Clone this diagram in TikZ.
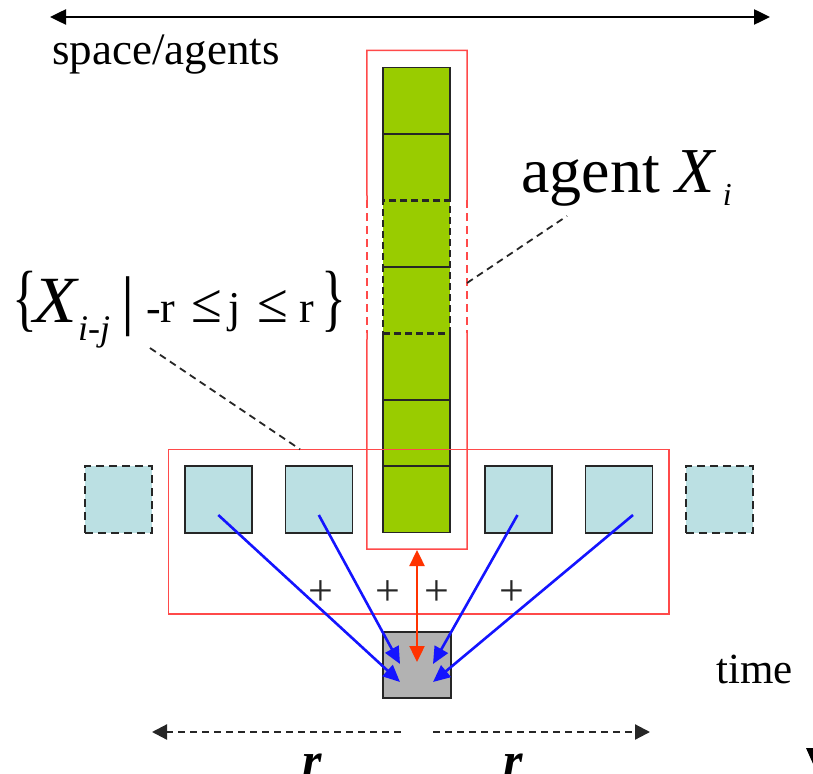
\documentclass[tikz,border=0pt]{standalone}
\usepackage{fontspec}
\setmainfont{Liberation Serif}
\usetikzlibrary{arrows.meta,calc}
\definecolor{cgreen}{HTML}{99CC00}
\definecolor{cblue}{HTML}{BBE0E3}
\definecolor{cgray}{HTML}{B2B2B2}
\definecolor{cred}{HTML}{FF4A4A}
\definecolor{carrowred}{HTML}{FF3300}
\definecolor{cbluearrow}{HTML}{1414FF}
\definecolor{cline}{HTML}{262626}
\tikzset{
  cell/.style={draw=cline, line width=1.6pt, fill=cgreen, minimum width=67pt, minimum height=66.4pt, inner sep=0pt, outer sep=0pt},
  dcell/.style={cell, dash pattern=on 7pt off 4pt, line width=2.4pt},
  sq/.style={draw=cline, line width=1.6pt, fill=cblue, minimum width=67pt, minimum height=67pt, inner sep=0pt, outer sep=0pt},
  dsq/.style={sq, dash pattern=on 8pt off 5pt, line width=2.6pt},
  frame/.style={draw=cred, line width=1.5pt},
  dframe/.style={frame, dash pattern=on 8pt off 5pt, line width=2.2pt},
  leader/.style={draw=cline, line width=1.8pt, dash pattern=on 7pt off 5pt},
  bluearr/.style={draw=cbluearrow, line width=2.6pt, -{Triangle[length=17pt,width=15pt]}},
  redarr/.style={draw=carrowred, line width=2.4pt, {Triangle[length=16pt,width=15pt]}-{Triangle[length=16pt,width=15pt]}},
  axis/.style={draw=black, line width=2.5pt, {Triangle[length=16pt,width=15pt]}-{Triangle[length=16pt,width=15pt]}},
  raxis/.style={draw=cline, line width=2.2pt, dash pattern=on 7pt off 5pt},
  plusmark/.style={inner sep=0pt, font=\fontsize{44}{44}\selectfont, text=cline},
  lbl/.style={inner sep=0pt, anchor=base west}
}
\begin{document}
\begin{tikzpicture}[x=1pt,y=-1pt]
\useasboundingbox (0,0) rectangle (813,773);
\clip (0,0) rectangle (813,773);

% top axis
\coordinate (axl) at (50,17);
\coordinate (axr) at (770,17);
\draw[axis] (axl) -- (axr);
\node[lbl, font=\fontsize{45}{45}\selectfont] (space) at (52,65) {space/agents};

% green column cells
\node[cell] (c1) at (416.5,100.9) {};
\node[cell] (c2) at (416.5,167.3) {};
\node[cell] (c5) at (416.5,366.5) {};
\node[cell] (c6) at (416.5,432.9) {};
\node[cell] (c7) at (416.5,499.3) {};
\fill[cgreen] ([yshift=1.5pt]c2.south west) rectangle ([yshift=-1.5pt]c5.north east);
\node[dcell, fill=none] (c3) at (416.5,233.7) {};
\node[dcell, fill=none] (c4) at (416.5,300.1) {};

% frame around the column (sides dashed in the middle)
\node[minimum width=100pt, minimum height=498.3pt, inner sep=0pt] (cf) at (417,299.85) {};
\coordinate (fl1) at (367,200);
\coordinate (fl2) at (367,333);
\coordinate (fr1) at (467,200);
\coordinate (fr2) at (467,333);
\draw[frame] (fl1) -- (cf.north west) -- (cf.north east) -- (fr1);
\draw[frame] (fl2) -- (cf.south west) -- (cf.south east) -- (fr2);
\draw[dframe] (fl1) -- (fl2);
\draw[dframe] (fr1) -- (fr2);

% neighbour squares
\node[dsq] (d1) at (118.5,499.5) {};
\node[sq] (b1) at (218.3,499.5) {};
\node[sq] (b2) at (318.8,499.5) {};
\node[sq] (b3) at (518.5,499.5) {};
\node[sq] (b4) at (619,499.5) {};
\node[dsq] (d2) at (719.5,499.5) {};

% neighbourhood frame
\node[frame, minimum width=500.4pt, minimum height=164.7pt, inner sep=0pt] (bb) at (418.8,531.65) {};

% plus signs
\node[plusmark] (p1) at (321,593) {+};
\node[plusmark] (p2) at (388,593) {+};
\node[plusmark] (p3) at (437,593) {+};
\node[plusmark] (p4) at (512,593) {+};

% result cell
\node[draw=cline, line width=1.6pt, fill=cgray, minimum width=68pt, minimum height=66pt, inner sep=0pt] (g) at (417,665) {};
\coordinate (t1) at ($(g.center)+(-17,17)$);
\coordinate (t2) at ($(g.center)+(-17,-1)$);
\coordinate (t3) at ($(g.center)+(16,-1)$);
\coordinate (t4) at ($(g.center)+(16,17)$);
\coordinate (t0) at ($(g.center)+(0,-3)$);

\draw[bluearr] ($(b1.center)+(0,15.5)$) -- (t1);
\draw[bluearr] ($(b2.center)+(0,15.5)$) -- (t2);
\draw[bluearr] ($(b3.center)+(-1,15.5)$) -- (t3);
\draw[bluearr] ($(b4.center)+(14,15.5)$) -- (t4);
\draw[redarr] ([yshift=-0.8pt]cf.south) -- (t0);

% labels
\node[lbl, font=\fontsize{64}{64}\selectfont] (agent) at (521,192) {agent \itshape X\kern8pt\raisebox{-13pt}{\fontsize{32}{32}\selectfont i}};
\coordinate (ag1) at (467,283);
\coordinate (ag2) at (567,216);
\draw[leader] (ag1) -- (ag2);

\node[lbl] (setlbl) at (12,322) {%
\makebox[21pt][l]{\scalebox{0.7}[1]{\fontsize{74}{74}\selectfont\{}}%
\makebox[45pt][l]{\scalebox{1.08}[1]{\fontsize{66}{66}\selectfont\itshape X}}%
\makebox[43pt][l]{\raisebox{-18pt}{\fontsize{36}{36}\selectfont\itshape i-j}}%
\makebox[25pt][l]{\fontsize{66}{66}\selectfont |}%
\fontsize{44}{44}\selectfont
\makebox[45pt][l]{-r}%
\makebox[37pt][l]{\fontsize{56}{56}\selectfont ≤}%
\makebox[29pt][l]{j}%
\makebox[42pt][l]{\fontsize{56}{56}\selectfont ≤}%
\makebox[22pt][l]{r}%
\scalebox{0.7}[1]{\fontsize{74}{74}\selectfont\}}};
\coordinate (sl1) at (150,348);
\coordinate (sl2) at (300,449.3);
\draw[leader] (sl1) -- (sl2);

\node[lbl, font=\fontsize{43}{43}\selectfont] (time) at (716,683) {time};

% r extents
\coordinate (rl1) at (152,732);
\coordinate (rl2) at (402,732);
\coordinate (rr1) at (433,732);
\coordinate (rr2) at (650,732);
\draw[raxis, {Triangle[length=15pt,width=15pt]}-] (rl1) -- (rl2);
\draw[raxis, -{Triangle[length=15pt,width=15pt]}] (rr1) -- (rr2);
\node[lbl, font=\fontsize{50}{50}\selectfont\bfseries\itshape] (r1) at (302,777) {r};
\node[lbl, font=\fontsize{50}{50}\selectfont\bfseries\itshape] (r2) at (503,777) {r};

% tip of time axis at the corner
\fill[black] (806,748) -- (822,748) -- (814,766) -- cycle;
\end{tikzpicture}
\end{document}
